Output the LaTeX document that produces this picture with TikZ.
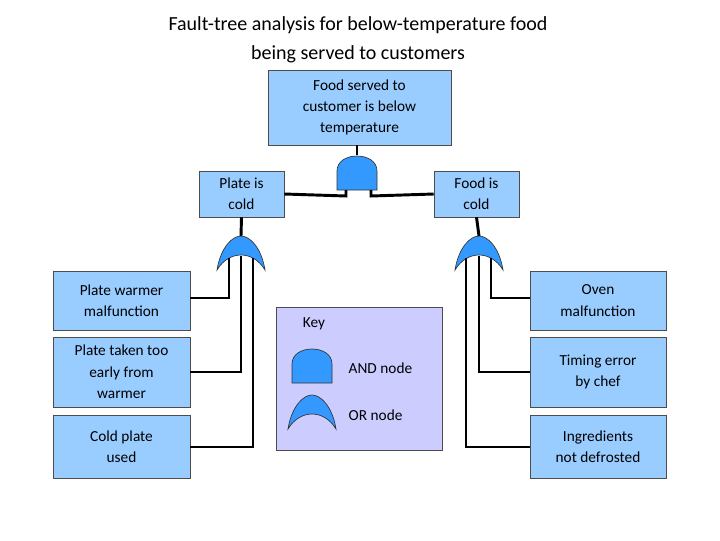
\documentclass[tikz,border=0pt]{standalone}
\usepackage{fontspec}
\setmainfont{Carlito}
\begin{document}
\begin{tikzpicture}[x=0.75pt,y=-0.75pt,
  box/.style={draw=black!70,fill=boxc,align=center,font=\fontsize{11.5}{16}\selectfont,inner sep=0pt},
  wire/.style={line width=2.2pt,line cap=butt},
  gate/.style={draw=black!80,fill=gatec,line width=0.5pt},
  orgate/.pic={\path[gate] (-24,34) .. controls (-20,10) and (-8,0) .. (0,0) .. controls (8,0) and (20,10) .. (24,34) .. controls (12,14) and (-12,14) .. (-24,34) -- cycle;},
  andgate/.pic={\path[gate] (-20,35) -- (-20,16) .. controls (-20,-4) and (20,-4) .. (20,16) -- (20,35) -- cycle;}]
\definecolor{boxc}{HTML}{99CCFF}
\definecolor{gatec}{HTML}{3399FF}
\definecolor{keyc}{HTML}{CCCCFF}
\useasboundingbox (0,0) rectangle (720,540);
\node[align=center,font=\fontsize{15}{22}\selectfont] (title) at (358,40) {Fault-tree analysis for below-temperature food\\being served to customers};
\node[box,minimum width=183*0.75pt,minimum height=75*0.75pt] (top) at (359.5,107.5) {Food served to\\customer is below\\temperature};
\node[box,minimum width=85*0.75pt,minimum height=46*0.75pt] (pc) at (241.5,194) {Plate is\\cold};
\node[box,minimum width=85*0.75pt,minimum height=46*0.75pt] (fc) at (476.5,194) {Food is\\cold};
\node[box,minimum width=137*0.75pt,minimum height=59*0.75pt] (l1) at (121.5,300.5) {Plate warmer\\malfunction};
\node[box,minimum width=137*0.75pt,minimum height=70*0.75pt] (l2) at (121.5,372) {Plate taken too\\early from\\warmer};
\node[box,minimum width=137*0.75pt,minimum height=63*0.75pt] (l3) at (121.5,446.5) {Cold plate\\used};
\node[box,minimum width=136*0.75pt,minimum height=59*0.75pt] (r1) at (598,300.5) {Oven\\malfunction};
\node[box,minimum width=136*0.75pt,minimum height=70*0.75pt] (r2) at (598,372) {Timing error\\by chef};
\node[box,minimum width=136*0.75pt,minimum height=63*0.75pt] (r3) at (598,446.5) {Ingredients\\not defrosted};
\node[draw=black!70,fill=keyc,minimum width=166*0.75pt,minimum height=143*0.75pt] (key) at (359,378.5) {};
% gates
\pic at (357,155) {andgate};
\pic at (241,236) {orgate};
\pic at (479,236) {orgate};
\pic at (312,348) {andgate};
\pic at (312,395) {orgate};
\coordinate (ag) at (357,155);
\coordinate (og1) at (241,236);
\coordinate (og2) at (479,236);
% wires
\draw[wire] (top.south -| ag) -- (ag);
\draw[wire] (pc.east) -- (346,196) -- (346,190);
\draw[wire] (fc.west) -- (371,196) -- (371,190);
\draw[wire] (pc.south) -- (og1);
\draw[wire] (fc.south) -- (og2);
\draw[wire] (229,258) |- (l1.east |- 0,298);
\draw[wire] (241,256) |- (l2.east);
\draw[wire] (253,258) |- (l3.east |- 0,447);
\draw[wire] (491,258) |- (r1.west |- 0,298);
\draw[wire] (479,256) |- (r2.west);
\draw[wire] (466,258) |- (r3.west |- 0,447);
\node[font=\fontsize{11.5}{14}\selectfont] (keyt) at (314,324) {Key};
\node[font=\fontsize{11.5}{14}\selectfont,anchor=west] (andt) at (344,368) {AND node};
\node[font=\fontsize{11.5}{14}\selectfont,anchor=west] (ort) at (344,415) {OR node};
\end{tikzpicture}
\end{document}
